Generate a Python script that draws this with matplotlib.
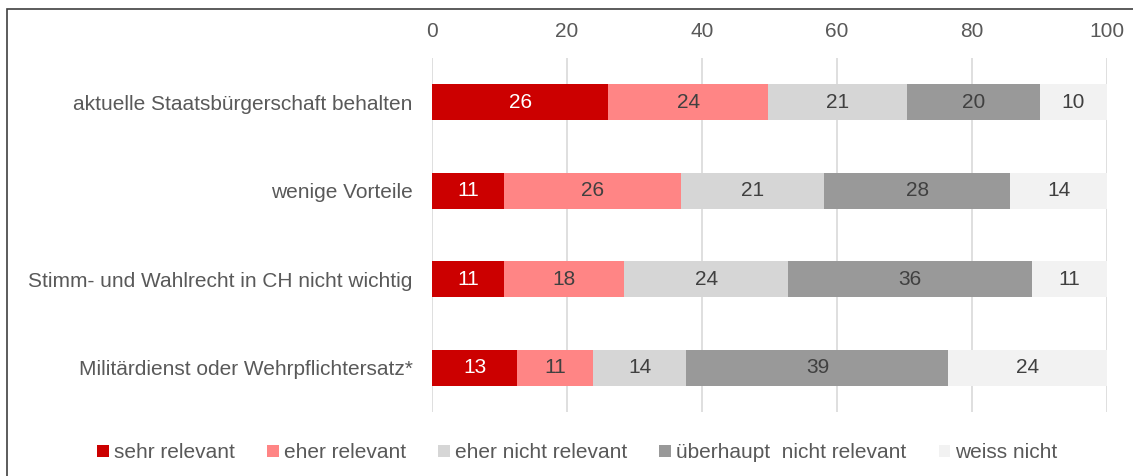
import matplotlib.pyplot as plt
from matplotlib.patches import Rectangle, Patch

plt.rcParams['font.family'] = ['Liberation Sans', 'DejaVu Sans']

# categories from top to bottom
categories = [
    "aktuelle Staatsbürgerschaft behalten",
    "wenige Vorteile",
    "Stimm- und Wahlrecht in CH nicht wichtig",
    "Militärdienst oder Wehrpflichtersatz*",
]

series_names = ["sehr relevant", "eher relevant", "eher nicht relevant",
                "überhaupt  nicht relevant", "weiss nicht"]

# shares in percent (labels shown rounded)
sehr_relevant = [26.1, 10.6, 10.7, 12.6]
eher_relevant = [23.7, 26.3, 17.8, 11.3]
eher_nicht_relevant = [20.6, 21.2, 24.3, 13.8]
ueberhaupt_nicht = [19.6, 27.6, 36.1, 38.8]
weiss_nicht = [10.0, 14.3, 11.1, 23.5]

xticks = [0, 20, 40, 60, 80, 100]

series = [sehr_relevant, eher_relevant, eher_nicht_relevant, ueberhaupt_nicht, weiss_nicht]
colors = ["#CC0000", "#FF8585", "#D6D6D6", "#999999", "#F2F2F2"]
text_colors = ["white", "#404040", "#404040", "#404040", "#404040"]

fig = plt.figure(figsize=(11.33, 4.76), dpi=100)
ax = fig.add_axes([432 / 1133, 1 - 412 / 476, 675 / 1133, 354 / 476])

# outer frame like the exported office chart
fig.patches.append(Rectangle((7 / 1133, -0.05), 1.2, 1 - 9 / 476 + 0.05,
                             transform=fig.transFigure, fill=False,
                             edgecolor="#404040", linewidth=1.2))

ypos = list(range(len(categories)))
left = [0.0] * len(categories)
for vals, col, tcol in zip(series, colors, text_colors):
    ax.barh(ypos, vals, left=left, height=0.41, color=col, zorder=2)
    for y, l, v in zip(ypos, left, vals):
        ax.text(l + v / 2, y, str(int(v + 0.5)), ha="center", va="center",
                color=tcol, fontsize=15, zorder=3)
    left = [a + b for a, b in zip(left, vals)]

ax.set_xlim(0, 100)
ax.set_ylim(3.5, -0.5)
ax.set_xticks(xticks)
ax.xaxis.tick_top()
ax.set_yticks(ypos)
ax.set_yticklabels(categories)
ax.tick_params(axis="both", length=0, labelsize=15, colors="#595959")
ax.tick_params(axis="x", pad=12)
ax.tick_params(axis="y", pad=14)
ax.grid(axis="x", color="#D9D9D9", linewidth=1.2, zorder=0)
for s in ax.spines.values():
    s.set_visible(False)

handles = [Patch(facecolor=c, edgecolor="none") for c in colors]
fig.legend(handles, series_names, loc="center", bbox_to_anchor=(0.5097, 1 - 453 / 476),
           ncol=5, frameon=False, fontsize=15, handlelength=0.55, handleheight=0.55,
           handletextpad=0.25, columnspacing=1.55, labelcolor="#595959")

fig.savefig("out.png", dpi=100)
